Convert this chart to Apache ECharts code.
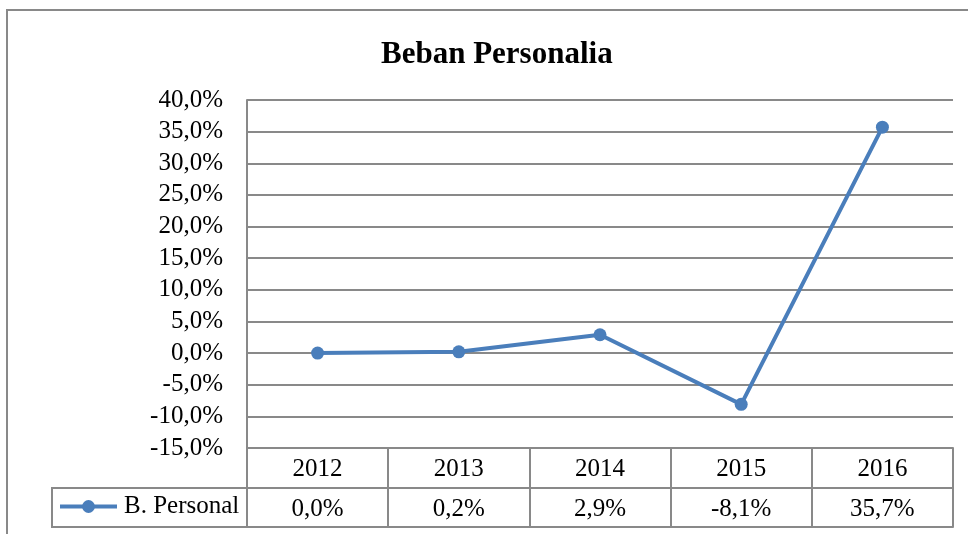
<!DOCTYPE html>
<html>
<head>
<meta charset="utf-8">
<script src="https://cdn.jsdelivr.net/npm/echarts@6/dist/echarts.min.js"></script>
<style>
  html, body { margin: 0; padding: 0; background: #fff; }
  #chart { width: 968px; height: 534px; }
</style>
</head>
<body>
<div id="chart"></div>
<script>
var years = ['2012', '2013', '2014', '2015', '2016'];
var personal = [0.0, 0.2, 2.9, -8.1, 35.7];
var seriesName = 'B. Personal';

var FONT = "'Liberation Serif', 'Times New Roman', serif";
var GRAY = '#898989';
var BLUE = '#4a7ebb';

function pct(v) {
    return v.toFixed(1).replace('.', ',') + '%';
}

var myChart = echarts.init(document.getElementById('chart'));

var option = {
    animation: false,
    title: {
        text: 'Beban Personalia',
        left: 376,
        top: 34,
        textStyle: { fontFamily: FONT, fontSize: 31, fontWeight: 'bold', color: '#000' }
    },
    legend: {
        data: [seriesName],
        left: 58,
        top: 494,
        padding: 0,
        itemWidth: 57,
        itemHeight: 16,
        itemGap: 4,
        lineStyle: { width: 4 },
        textStyle: { fontFamily: FONT, fontSize: 25, color: '#000', padding: [0, 0, 0, 2] }
    },
    grid: { left: 247, right: 15, top: 100, bottom: 86 },
    xAxis: [
        {
            type: 'category',
            data: years,
            position: 'bottom',
            boundaryGap: true,
            axisLine: { show: true, onZero: false, lineStyle: { color: GRAY, width: 2 } },
            axisTick: { show: true, length: 79, lineStyle: { color: GRAY, width: 2 } },
            axisLabel: { margin: 9, fontFamily: FONT, fontSize: 25, color: '#000' }
        },
        {
            type: 'category',
            data: personal.map(pct),
            position: 'bottom',
            offset: 40,
            axisLine: { show: true, onZero: false, lineStyle: { color: GRAY, width: 2 } },
            axisTick: { show: false },
            axisLabel: { margin: 9, fontFamily: FONT, fontSize: 25, color: '#000' }
        },
        {
            type: 'category',
            data: years,
            position: 'bottom',
            offset: 79,
            axisLine: { show: true, onZero: false, lineStyle: { color: GRAY, width: 2 } },
            axisTick: { show: false },
            axisLabel: { show: false }
        }
    ],
    yAxis: {
        type: 'value',
        min: -15,
        max: 40,
        interval: 5,
        axisLine: { show: true, lineStyle: { color: GRAY, width: 2 } },
        axisTick: { show: false },
        splitLine: { lineStyle: { color: GRAY, width: 2 } },
        axisLabel: {
            margin: 24,
            fontFamily: FONT,
            fontSize: 25,
            color: '#000',
            formatter: function (v) { return pct(v); }
        }
    },
    series: [
        {
            name: seriesName,
            type: 'line',
            xAxisIndex: 0,
            data: personal,
            symbol: 'circle',
            symbolSize: 13,
            lineStyle: { color: BLUE, width: 4 },
            itemStyle: { color: BLUE }
        }
    ],
    graphic: [
        {
            type: 'rect',
            shape: { x: 7, y: 10, width: 1000, height: 600 },
            style: { fill: 'none', stroke: GRAY, lineWidth: 2 },
            silent: true
        },
        {
            type: 'rect',
            shape: { x: 52, y: 488, width: 195, height: 39 },
            style: { fill: 'none', stroke: GRAY, lineWidth: 2 },
            silent: true
        }
    ]
};

myChart.setOption(option);
</script>
</body>
</html>
